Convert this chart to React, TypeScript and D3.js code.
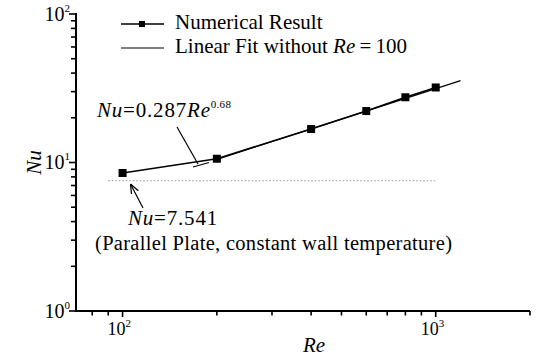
import * as d3 from "d3";

const reValues = [100, 200, 400, 600, 800, 1000];
const nuValues = [8.5, 10.6, 16.8, 22.2, 27.5, 32.0];
// linear fit (log-log) end points, without Re = 100
const fitRe = [200, 1200];
const fitNu = [10.5, 35.6];
// parallel plate reference
const plateRe = [90, 1000];
const plateNu = 7.541;

const xMajor = [100, 1000];
const xMinor = [80, 90, 200, 300, 400, 500, 600, 700, 800, 900, 2000];
const yMajor = [1, 10, 100];
const yMinor = [2, 3, 4, 5, 6, 7, 8, 9, 20, 30, 40, 50, 60, 70, 80, 90];

const W = 538;
const H = 364;
const font = "Liberation Serif";

export default function App() {
  const x = d3.scaleLog().domain([71, 2000]).range([76, 530]);
  const y = d3.scaleLog().domain([1, 100]).range([311, 14]);

  const line = d3
    .line<[number, number]>()
    .x((d) => x(d[0]))
    .y((d) => y(d[1]));

  const pts: [number, number][] = reValues.map((r, i) => [r, nuValues[i]]);
  const fit: [number, number][] = fitRe.map((r, i) => [r, fitNu[i]]);

  const exp = (v: number) => Math.round(Math.log10(v));
  const y0 = y(1);
  const ax = 76;

  return (
    <svg width={W} height={H} style={{ position: "absolute", left: 0, top: 0 }} fontFamily={font}>
      <defs>
        <marker id="arr" viewBox="0 0 10 10" refX="10" refY="5" markerWidth="8" markerHeight="8" orient="auto">
          <path d="M0,1 L10,5 L0,9" fill="none" stroke="#000" strokeWidth="1.3" />
        </marker>
      </defs>
      <rect x={0} y={0} width={W} height={H} fill="#fff" />

      {/* reference line Nu = 7.541 */}
      <line
        x1={x(plateRe[0])}
        x2={x(plateRe[1])}
        y1={y(plateNu)}
        y2={y(plateNu)}
        stroke="#999"
        strokeWidth={1}
        strokeDasharray="1.5,2"
      />

      {/* fit line */}
      <path d={line(fit) ?? ""} fill="none" stroke="#000" strokeWidth={1.2} />
      {/* numerical result */}
      <path d={line(pts) ?? ""} fill="none" stroke="#000" strokeWidth={1.5} />
      {pts.map((d, i) => (
        <rect key={i} x={x(d[0]) - 4} y={y(d[1]) - 4} width={8} height={8} fill="#000" />
      ))}

      {/* axes */}
      <rect x={ax - 1} y={y(100) - 1} width={2} height={y0 - y(100) + 2} fill="#000" />
      <rect x={ax - 1} y={y0 - 1} width={530 - ax + 1} height={2} fill="#000" />
      {yMajor.map((v) => (
        <g key={"ym" + v}>
          <rect x={ax - 7} y={y(v) - 0.8} width={7} height={1.6} fill="#000" />
          <text x={70} y={y(v) + 6.5} textAnchor="end" fontSize={20} fontFamily={font}>
            10<tspan dy={-9} fontSize={11} fontFamily={font}>{exp(v)}</tspan>
          </text>
        </g>
      ))}
      {yMinor.map((v) => (
        <rect key={"yn" + v} x={ax - 5} y={y(v) - 0.8} width={5} height={1.6} fill="#000" />
      ))}
      {xMajor.map((v) => (
        <g key={"xm" + v}>
          <rect x={x(v) - 0.8} y={y0} width={1.6} height={6} fill="#000" />
          <text x={x(v) - 15} y={y0 + 24} fontSize={18} fontFamily={font}>
            10<tspan dy={-8} fontSize={11} fontFamily={font}>{exp(v)}</tspan>
          </text>
        </g>
      ))}
      {xMinor.map((v) => (
        <rect key={"xn" + v} x={x(v) - 0.8} y={y0} width={1.6} height={4.5} fill="#000" />
      ))}

      {/* axis titles */}
      <text x={314} y={352} textAnchor="middle" fontSize={21} fontStyle="italic" fontFamily={font}>
        Re
      </text>
      <text
        transform={`translate(41,${y(10)}) rotate(-90)`}
        textAnchor="middle"
        fontSize={21}
        fontStyle="italic"
        fontFamily={font}
      >
        Nu
      </text>

      {/* legend */}
      <line x1={121} x2={164} y1={24} y2={24} stroke="#000" strokeWidth={1.5} />
      <rect x={139} y={21} width={6} height={6} fill="#000" />
      <text x={175} y={29} fontSize={21} fontFamily={font}>Numerical Result</text>
      <line x1={121} x2={164} y1={48} y2={48} stroke="#000" strokeWidth={1.2} />
      <text x={175} y={53} fontSize={21} fontFamily={font}>
        Linear Fit without <tspan fontStyle="italic" fontFamily={font}>Re</tspan>{"\u2009=\u2009"}100
      </text>

      {/* annotations */}
      <text x={97} y={117} fontSize={21} letterSpacing={0.8} fontFamily={font}>
        <tspan fontStyle="italic" fontFamily={font}>Nu</tspan>=0.287<tspan fontStyle="italic" fontFamily={font}>Re</tspan>
        <tspan dy={-9} fontSize={11} letterSpacing={0.3} fontFamily={font}>0.68</tspan>
      </text>
      <line x1={177} y1={127} x2={198} y2={164} stroke="#000" strokeWidth={1.2} />
      <line x1={193} y1={167} x2={209} y2={162.5} stroke="#000" strokeWidth={1.2} />

      <text x={128} y={225} fontSize={21} letterSpacing={0.8} fontFamily={font}>
        <tspan fontStyle="italic" fontFamily={font}>Nu</tspan>=7.541
      </text>
      <line x1={143} y1={208} x2={130.5} y2={184} stroke="#000" strokeWidth={1.2} markerEnd="url(#arr)" />
      <text x={95} y={250} fontSize={20.5} letterSpacing={0.3} fontFamily={font}>
        (Parallel Plate, constant wall temperature)
      </text>
    </svg>
  );
}
